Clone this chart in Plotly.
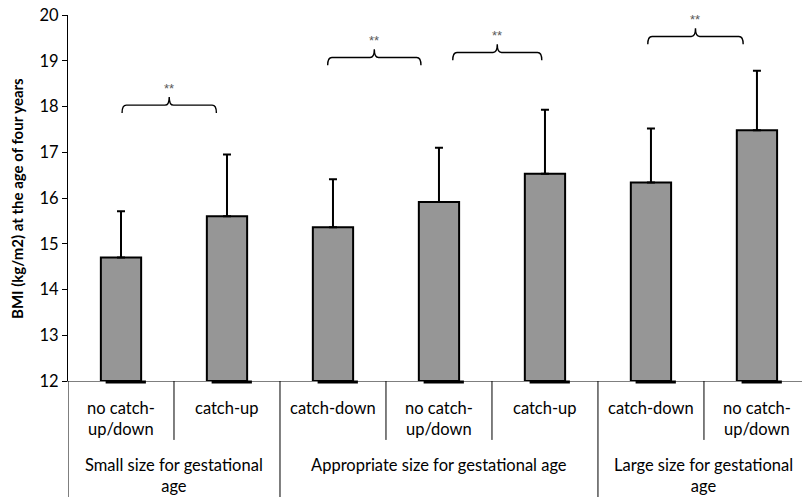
import plotly.graph_objects as go

# ---- data ----
groups = ["Small size for gestational<br>age", "Appropriate size for gestational age",
          "Large size for gestational<br>age"]
group_sizes = [2, 3, 2]
subcats = ["no catch-<br>up/down", "catch-up", "catch-down", "no catch-<br>up/down",
           "catch-up", "catch-down", "no catch-<br>up/down"]
means = [14.70, 15.60, 15.36, 15.91, 16.53, 16.34, 17.48]
upper = [15.71, 16.95, 16.41, 17.10, 17.93, 17.52, 18.78]
# significance brackets: (left x, right x, flat y level)
brackets = [(0.01, 0.90, 18.03), (1.95, 2.83, 19.07), (3.13, 3.97, 19.18), (4.97, 5.87, 19.53)]
sig_text = "**"

FONT = "Lato"
xi = list(range(len(means)))
err = [u - m for u, m in zip(upper, means)]

fig = go.Figure()
fig.add_trace(go.Bar(
    x=xi, y=[m - 12 for m in means], base=12, width=0.38,
    marker=dict(color="#969696", line=dict(color="black", width=2)),
    error_y=dict(type="data", symmetric=False, array=err, arrayminus=[0] * len(err),
                 color="black", thickness=2, width=4),
    hoverinfo="skip",
))

shapes = []
# baseline marks under each bar
for x in xi:
    shapes.append(dict(type="line", xref="x", yref="paper", x0=x - 0.19 + 0.045, x1=x + 0.19 + 0.045,
                       y0=-0.003, y1=-0.003, line=dict(color="black", width=3)))
# category dividers
bounds = [-0.5]
for s in group_sizes:
    bounds.append(bounds[-1] + s)
for b in bounds[:-1]:
    shapes.append(dict(type="line", xref="x", yref="paper", x0=b, x1=b, y0=0, y1=-0.32,
                       line=dict(color="black", width=1)))
for k in range(len(means) - 1):
    b = k + 0.5
    if b not in bounds:
        shapes.append(dict(type="line", xref="x", yref="paper", x0=b, x1=b, y0=0, y1=-0.161,
                           line=dict(color="black", width=1)))

annotations = []
# curly brackets
for (a, b, yf) in brackets:
    m = (a + b) / 2
    dx, dyend, dytip = 0.04, 0.17, 0.18
    ye, yt = yf - dyend, yf + dytip
    path = (f"M {a},{ye} Q {a},{yf} {a+dx},{yf} L {m-dx},{yf} Q {m},{yf} {m},{yt} "
            f"Q {m},{yf} {m+dx},{yf} L {b-dx},{yf} Q {b},{yf} {b},{ye}")
    shapes.append(dict(type="path", xref="x", yref="y", path=path,
                       line=dict(color="black", width=1.4)))
    annotations.append(dict(x=m, y=yt - 0.02, xref="x", yref="y", text=sig_text, showarrow=False,
                            yanchor="bottom",
                            font=dict(family="Liberation Sans", size=13, color="#595959")))

for x, lab in zip(xi, subcats):
    annotations.append(dict(x=x, y=-0.042, xref="x", yref="paper", text=lab, showarrow=False,
                            yanchor="top", align="center",
                            font=dict(family=FONT, size=16.5, color="black")))
start = -0.5
for g, s in zip(groups, group_sizes):
    annotations.append(dict(x=start + s / 2, y=-0.197, xref="x", yref="paper", text=g, showarrow=False,
                            yanchor="top", align="center",
                            font=dict(family=FONT, size=16.5, color="black")))
    start += s

annotations.append(dict(x=-0.0695, y=0.5, xref="paper", yref="paper",
                        text="<b>BMI (kg/m2) at the age of four years</b>", textangle=-90,
                        showarrow=False, xanchor="center", yanchor="middle",
                        font=dict(family=FONT, size=15, color="black")))

fig.update_layout(
    width=802, height=497,
    margin=dict(l=68, r=0, t=15, b=116),
    paper_bgcolor="white", plot_bgcolor="white",
    showlegend=False,
    shapes=shapes, annotations=annotations,
    xaxis=dict(range=[-0.5, 6.425], showticklabels=False, ticks="", showgrid=False,
               zeroline=False, showline=True, linecolor="#7f7f7f", linewidth=1),
    yaxis=dict(range=[12, 20], dtick=1, showgrid=False, zeroline=False,
               showline=True, linecolor="black", linewidth=1,
               ticks="outside", ticklen=5, tickcolor="black",
               tickfont=dict(family=FONT, size=16.5, color="black")),
    font=dict(family=FONT),
)

fig.write_html("out.html")
